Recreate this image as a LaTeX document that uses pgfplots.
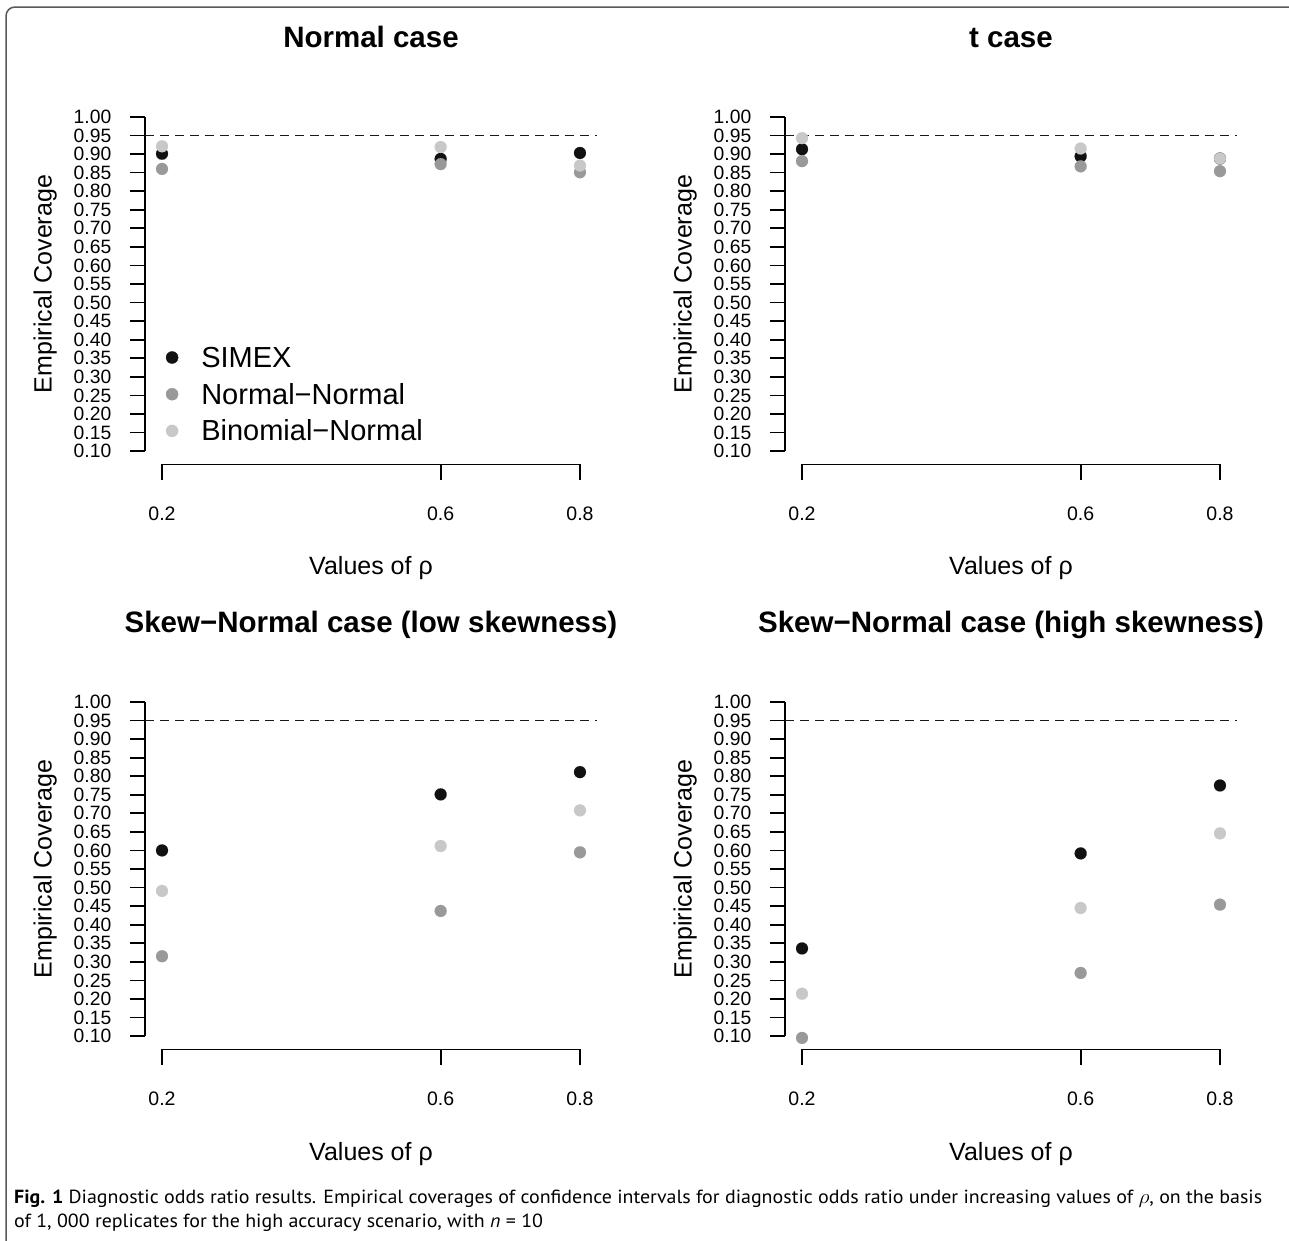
\documentclass[border=0pt]{standalone}
\usepackage{pgfplots}
\pgfplotsset{compat=1.18}
\usepackage{fontspec}
\setmainfont{Liberation Sans}
\newfontfamily\capfont{PT Sans}
\usepackage{graphicx}

\definecolor{cSim}{HTML}{111111}
\definecolor{cNN}{HTML}{999999}
\definecolor{cBN}{HTML}{C8C8C8}

\pgfplotsset{
  panel/.style={
    scale only axis, width=451.4bp, height=360.8bp,
    xmin=0.176, xmax=0.824, ymin=0.064, ymax=1.036,
    clip=false,
    axis x line*=bottom, axis y line*=left,
    axis line style={draw=none},
    tick align=outside, major tick length=15.5bp,
    tick style={black, line width=1.7bp},
    xtick={0.2,0.6,0.8},
    ytick={0.10,0.15,0.20,0.25,0.30,0.35,0.40,0.45,0.50,0.55,0.60,0.65,0.70,0.75,0.80,0.85,0.90,0.95,1.00},
    minor tick num=0,
    yticklabel style={/pgf/number format/.cd, fixed, fixed zerofill, precision=2, assume math mode=true, /tikz/.cd,
      font=\fontsize{19.3bp}{19.3bp}\selectfont, inner sep=0pt, anchor=east, xshift=-18.3bp},
    xticklabel style={/pgf/number format/.cd, fixed, fixed zerofill, precision=1, assume math mode=true, /tikz/.cd,
      font=\fontsize{19.5bp}{19.5bp}\selectfont, inner sep=0pt, anchor=north, yshift=-27bp},
    scaled ticks=false,
    xlabel={Values of ρ},
    ylabel={Empirical Coverage},
    xlabel style={at={(axis description cs:0.5,-0.3065)}, anchor=base, inner sep=0pt, font=\fontsize{25bp}{25bp}\selectfont},
    ylabel style={at={(axis description cs:-0.2074,0.5)}, anchor=base, rotate=0, inner sep=0pt, font=\fontsize{25bp}{25bp}\selectfont},
    title style={at={(axis description cs:0.5,1.1402)}, anchor=base, inner sep=0pt, font=\bfseries\fontsize{29.5bp}{29.5bp}\selectfont},
  },
  sim/.style={only marks, mark=*, mark size=6bp, color=cSim, mark options={line width=0.1bp},
    legend image code/.code={\fill[cSim] (6bp,-0.6bp) circle (6bp);}},
  nn/.style={only marks, mark=*, mark size=6bp, color=cNN, mark options={line width=0.1bp},
    legend image code/.code={\fill[cNN] (6bp,-0.6bp) circle (6bp);}},
  bn/.style={only marks, mark=*, mark size=6bp, color=cBN, mark options={line width=0.1bp},
    legend image code/.code={\fill[cBN] (6bp,-0.6bp) circle (6bp);}},
  ref/.style={black!90, line width=1.8bp, dash pattern=on 9bp off 6bp},
}
\newcommand{\axlines}{%
  \draw[black, line width=1.7bp] (axis cs:0.176,0.1) -- (axis cs:0.176,1.0);
  \draw[black, line width=1.7bp] (axis cs:0.2,0.064) -- (axis cs:0.8,0.064);
  \addplot[ref, forget plot] coordinates {(0.176,0.95) (0.824,0.95)};
}

\newsavebox\capbox
\begin{document}
\sbox\capbox{\capfont\fontsize{19bp}{19bp}\selectfont \textbf{Fig. 1} Diagnostic odds ratio results. Empirical coverages of confidence intervals for diagnostic odds ratio under increasing values of $\rho$, on the basis}%
\begin{tikzpicture}
\useasboundingbox (0,0) rectangle (1289bp,-1241bp);
\fill[white] (0,0) rectangle (1289bp,-1241bp);
\draw[rounded corners=9bp, line width=1.5bp, color=black!65] (6bp,-7bp) rectangle (1320bp,-1270bp);

% Top left: Normal case
\begin{axis}[panel, at={(145.3bp,-464.4bp)}, anchor=south west, title={Normal case},
  legend style={draw=none, fill=none, at={(0.0452,0.3276)}, anchor=north west, inner sep=0pt,
    font=\fontsize{29bp}{29bp}\selectfont, row sep=15.7bp,
    nodes={inner sep=0pt, text height=21bp, text depth=0bp},
    /tikz/every odd column/.append style={column sep=23bp}},
  legend cell align=left]
\axlines
\addplot[sim] coordinates {(0.2,0.901) (0.6,0.887) (0.8,0.903)};
\addplot[nn]  coordinates {(0.2,0.860) (0.6,0.873) (0.8,0.851)};
\addplot[bn]  coordinates {(0.2,0.921) (0.6,0.919) (0.8,0.869)};
\legend{SIMEX, Normal−Normal, Binomial−Normal}
\end{axis}

% Top right: t case
\begin{axis}[panel, at={(785.3bp,-464.4bp)}, anchor=south west, title={t case}]
\axlines
\addplot[sim] coordinates {(0.2,0.913) (0.6,0.894) (0.8,0.888)};
\addplot[nn]  coordinates {(0.2,0.881) (0.6,0.867) (0.8,0.854)};
\addplot[bn]  coordinates {(0.2,0.943) (0.6,0.915) (0.8,0.888)};
\end{axis}

% Bottom left
\begin{axis}[panel, at={(145.3bp,-1049.4bp)}, anchor=south west, title={Skew−Normal case (low skewness)}]
\axlines
\addplot[sim] coordinates {(0.2,0.600) (0.6,0.751) (0.8,0.811)};
\addplot[nn]  coordinates {(0.2,0.315) (0.6,0.437) (0.8,0.595)};
\addplot[bn]  coordinates {(0.2,0.491) (0.6,0.612) (0.8,0.708)};
\end{axis}

% Bottom right
\begin{axis}[panel, at={(785.3bp,-1049.4bp)}, anchor=south west, title={Skew−Normal case (high skewness)}]
\axlines
\addplot[sim] coordinates {(0.2,0.336) (0.6,0.592) (0.8,0.775)};
\addplot[nn]  coordinates {(0.2,0.095) (0.6,0.270) (0.8,0.454)};
\addplot[bn]  coordinates {(0.2,0.214) (0.6,0.445) (0.8,0.646)};
\end{axis}

\pgfmathsetmacro\capf{1248bp/\wd\capbox}
\node[anchor=base west, inner sep=0pt] at (14bp,-1203bp) {\scalebox{\capf}[1]{\usebox\capbox}};
\node[anchor=base west, inner sep=0pt] at (14bp,-1227bp) {\scalebox{\capf}[1]{\capfont\fontsize{19bp}{19bp}\selectfont of 1, 000 replicates for the high accuracy scenario, with \textit{n} = 10}};
\end{tikzpicture}
\end{document}
